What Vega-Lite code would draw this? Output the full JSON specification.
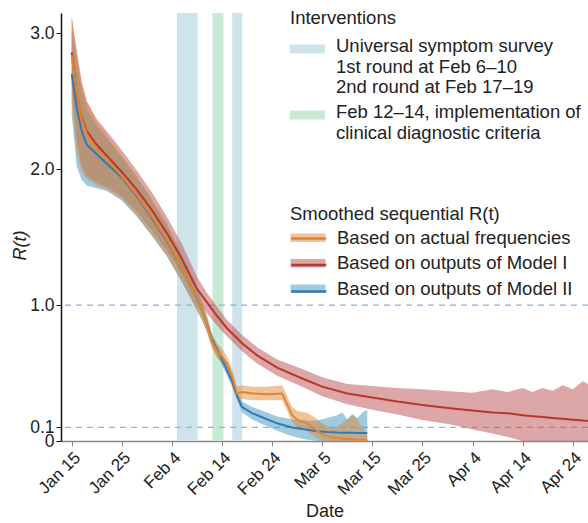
{
  "$schema": "https://vega.github.io/schema/vega-lite/v6.json",
  "width": 527,
  "height": 428,
  "autosize": {"type": "none"},
  "padding": {"left": 61, "top": 13, "right": 0, "bottom": 82},
  "background": "white",
  "config": {
    "font": "Liberation Sans",
    "view": {"stroke": null},
    "legend": {"padding": 0}
  },
  "datasets": {
    "series": [
      {"date": "2020-01-15", "series": "Based on outputs of Model I", "lo": 2.62, "mid": 2.86, "hi": 3.12},
      {"date": "2020-01-16", "series": "Based on outputs of Model I", "lo": 2.20, "mid": 2.55, "hi": 2.88},
      {"date": "2020-01-17", "series": "Based on outputs of Model I", "lo": 2.02, "mid": 2.38, "hi": 2.64},
      {"date": "2020-01-18", "series": "Based on outputs of Model I", "lo": 1.95, "mid": 2.28, "hi": 2.50},
      {"date": "2020-01-20", "series": "Based on outputs of Model I", "lo": 1.90, "mid": 2.18, "hi": 2.37},
      {"date": "2020-01-22", "series": "Based on outputs of Model I", "lo": 1.87, "mid": 2.10, "hi": 2.28},
      {"date": "2020-01-25", "series": "Based on outputs of Model I", "lo": 1.80, "mid": 1.98, "hi": 2.14},
      {"date": "2020-01-28", "series": "Based on outputs of Model I", "lo": 1.69, "mid": 1.85, "hi": 1.99},
      {"date": "2020-01-31", "series": "Based on outputs of Model I", "lo": 1.55, "mid": 1.70, "hi": 1.83},
      {"date": "2020-02-03", "series": "Based on outputs of Model I", "lo": 1.40, "mid": 1.53, "hi": 1.65},
      {"date": "2020-02-06", "series": "Based on outputs of Model I", "lo": 1.23, "mid": 1.34, "hi": 1.45},
      {"date": "2020-02-09", "series": "Based on outputs of Model I", "lo": 1.03, "mid": 1.12, "hi": 1.21},
      {"date": "2020-02-11", "series": "Based on outputs of Model I", "lo": 0.94, "mid": 1.02, "hi": 1.09},
      {"date": "2020-02-13", "series": "Based on outputs of Model I", "lo": 0.85, "mid": 0.92, "hi": 0.99},
      {"date": "2020-02-15", "series": "Based on outputs of Model I", "lo": 0.77, "mid": 0.83, "hi": 0.89},
      {"date": "2020-02-18", "series": "Based on outputs of Model I", "lo": 0.66, "mid": 0.72, "hi": 0.78},
      {"date": "2020-02-21", "series": "Based on outputs of Model I", "lo": 0.57, "mid": 0.63, "hi": 0.69},
      {"date": "2020-02-25", "series": "Based on outputs of Model I", "lo": 0.48, "mid": 0.54, "hi": 0.60},
      {"date": "2020-03-01", "series": "Based on outputs of Model I", "lo": 0.40, "mid": 0.46, "hi": 0.53},
      {"date": "2020-03-05", "series": "Based on outputs of Model I", "lo": 0.33, "mid": 0.40, "hi": 0.47},
      {"date": "2020-03-10", "series": "Based on outputs of Model I", "lo": 0.27, "mid": 0.35, "hi": 0.42},
      {"date": "2020-03-15", "series": "Based on outputs of Model I", "lo": 0.23, "mid": 0.32, "hi": 0.405},
      {"date": "2020-03-20", "series": "Based on outputs of Model I", "lo": 0.195, "mid": 0.29, "hi": 0.39},
      {"date": "2020-03-25", "series": "Based on outputs of Model I", "lo": 0.155, "mid": 0.265, "hi": 0.38},
      {"date": "2020-03-31", "series": "Based on outputs of Model I", "lo": 0.12, "mid": 0.24, "hi": 0.365},
      {"date": "2020-04-04", "series": "Based on outputs of Model I", "lo": 0.085, "mid": 0.225, "hi": 0.355},
      {"date": "2020-04-08", "series": "Based on outputs of Model I", "lo": 0.055, "mid": 0.21, "hi": 0.38},
      {"date": "2020-04-11", "series": "Based on outputs of Model I", "lo": 0.03, "mid": 0.205, "hi": 0.36},
      {"date": "2020-04-14", "series": "Based on outputs of Model I", "lo": 0.0, "mid": 0.19, "hi": 0.39},
      {"date": "2020-04-16", "series": "Based on outputs of Model I", "lo": 0.0, "mid": 0.183, "hi": 0.36},
      {"date": "2020-04-18", "series": "Based on outputs of Model I", "lo": 0.0, "mid": 0.177, "hi": 0.39},
      {"date": "2020-04-20", "series": "Based on outputs of Model I", "lo": 0.0, "mid": 0.17, "hi": 0.37},
      {"date": "2020-04-22", "series": "Based on outputs of Model I", "lo": 0.0, "mid": 0.163, "hi": 0.41},
      {"date": "2020-04-24", "series": "Based on outputs of Model I", "lo": 0.0, "mid": 0.157, "hi": 0.38},
      {"date": "2020-04-26", "series": "Based on outputs of Model I", "lo": 0.0, "mid": 0.15, "hi": 0.44},
      {"date": "2020-04-28", "series": "Based on outputs of Model I", "lo": 0.0, "mid": 0.143, "hi": 0.40},

      {"date": "2020-01-15", "series": "Based on outputs of Model II", "lo": 2.40, "mid": 2.70, "hi": 3.02},
      {"date": "2020-01-16", "series": "Based on outputs of Model II", "lo": 2.02, "mid": 2.45, "hi": 2.78},
      {"date": "2020-01-17", "series": "Based on outputs of Model II", "lo": 1.92, "mid": 2.28, "hi": 2.58},
      {"date": "2020-01-18", "series": "Based on outputs of Model II", "lo": 1.88, "mid": 2.18, "hi": 2.44},
      {"date": "2020-01-20", "series": "Based on outputs of Model II", "lo": 1.86, "mid": 2.11, "hi": 2.32},
      {"date": "2020-01-22", "series": "Based on outputs of Model II", "lo": 1.84, "mid": 2.04, "hi": 2.23},
      {"date": "2020-01-25", "series": "Based on outputs of Model II", "lo": 1.77, "mid": 1.94, "hi": 2.09},
      {"date": "2020-01-28", "series": "Based on outputs of Model II", "lo": 1.65, "mid": 1.80, "hi": 1.94},
      {"date": "2020-01-31", "series": "Based on outputs of Model II", "lo": 1.51, "mid": 1.64, "hi": 1.77},
      {"date": "2020-02-03", "series": "Based on outputs of Model II", "lo": 1.36, "mid": 1.47, "hi": 1.59},
      {"date": "2020-02-06", "series": "Based on outputs of Model II", "lo": 1.17, "mid": 1.27, "hi": 1.37},
      {"date": "2020-02-08", "series": "Based on outputs of Model II", "lo": 1.03, "mid": 1.12, "hi": 1.20},
      {"date": "2020-02-10", "series": "Based on outputs of Model II", "lo": 0.89, "mid": 0.96, "hi": 1.03},
      {"date": "2020-02-11", "series": "Based on outputs of Model II", "lo": 0.80, "mid": 0.86, "hi": 0.92},
      {"date": "2020-02-12", "series": "Based on outputs of Model II", "lo": 0.70, "mid": 0.745, "hi": 0.79},
      {"date": "2020-02-14", "series": "Based on outputs of Model II", "lo": 0.56, "mid": 0.60, "hi": 0.64},
      {"date": "2020-02-16", "series": "Based on outputs of Model II", "lo": 0.40, "mid": 0.44, "hi": 0.48},
      {"date": "2020-02-17", "series": "Based on outputs of Model II", "lo": 0.30, "mid": 0.33, "hi": 0.37},
      {"date": "2020-02-18", "series": "Based on outputs of Model II", "lo": 0.21, "mid": 0.25, "hi": 0.29},
      {"date": "2020-02-20", "series": "Based on outputs of Model II", "lo": 0.16, "mid": 0.205, "hi": 0.25},
      {"date": "2020-02-22", "series": "Based on outputs of Model II", "lo": 0.125, "mid": 0.175, "hi": 0.225},
      {"date": "2020-02-25", "series": "Based on outputs of Model II", "lo": 0.075, "mid": 0.13, "hi": 0.18},
      {"date": "2020-02-28", "series": "Based on outputs of Model II", "lo": 0.035, "mid": 0.10, "hi": 0.16},
      {"date": "2020-03-02", "series": "Based on outputs of Model II", "lo": 0.01, "mid": 0.083, "hi": 0.15},
      {"date": "2020-03-04", "series": "Based on outputs of Model II", "lo": 0.0, "mid": 0.072, "hi": 0.15},
      {"date": "2020-03-06", "series": "Based on outputs of Model II", "lo": 0.0, "mid": 0.066, "hi": 0.17},
      {"date": "2020-03-08", "series": "Based on outputs of Model II", "lo": 0.0, "mid": 0.062, "hi": 0.19},
      {"date": "2020-03-09", "series": "Based on outputs of Model II", "lo": 0.0, "mid": 0.061, "hi": 0.21},
      {"date": "2020-03-10", "series": "Based on outputs of Model II", "lo": 0.0, "mid": 0.06, "hi": 0.16},
      {"date": "2020-03-11", "series": "Based on outputs of Model II", "lo": 0.0, "mid": 0.06, "hi": 0.20},
      {"date": "2020-03-12", "series": "Based on outputs of Model II", "lo": 0.0, "mid": 0.059, "hi": 0.17},
      {"date": "2020-03-13", "series": "Based on outputs of Model II", "lo": 0.0, "mid": 0.059, "hi": 0.21},
      {"date": "2020-03-14", "series": "Based on outputs of Model II", "lo": 0.0, "mid": 0.059, "hi": 0.23},

      {"date": "2020-01-15", "series": "Based on actual frequencies", "lo": 2.48, "mid": 2.84, "hi": 3.12},
      {"date": "2020-01-16", "series": "Based on actual frequencies", "lo": 2.12, "mid": 2.56, "hi": 2.86},
      {"date": "2020-01-17", "series": "Based on actual frequencies", "lo": 1.98, "mid": 2.37, "hi": 2.64},
      {"date": "2020-01-18", "series": "Based on actual frequencies", "lo": 1.93, "mid": 2.26, "hi": 2.50},
      {"date": "2020-01-20", "series": "Based on actual frequencies", "lo": 1.88, "mid": 2.15, "hi": 2.35},
      {"date": "2020-01-22", "series": "Based on actual frequencies", "lo": 1.85, "mid": 2.08, "hi": 2.25},
      {"date": "2020-01-25", "series": "Based on actual frequencies", "lo": 1.78, "mid": 1.95, "hi": 2.10},
      {"date": "2020-01-28", "series": "Based on actual frequencies", "lo": 1.66, "mid": 1.81, "hi": 1.95},
      {"date": "2020-01-31", "series": "Based on actual frequencies", "lo": 1.51, "mid": 1.65, "hi": 1.78},
      {"date": "2020-02-03", "series": "Based on actual frequencies", "lo": 1.36, "mid": 1.48, "hi": 1.60},
      {"date": "2020-02-06", "series": "Based on actual frequencies", "lo": 1.17, "mid": 1.27, "hi": 1.37},
      {"date": "2020-02-08", "series": "Based on actual frequencies", "lo": 1.03, "mid": 1.12, "hi": 1.20},
      {"date": "2020-02-10", "series": "Based on actual frequencies", "lo": 0.89, "mid": 0.96, "hi": 1.03},
      {"date": "2020-02-11", "series": "Based on actual frequencies", "lo": 0.80, "mid": 0.86, "hi": 0.92},
      {"date": "2020-02-12", "series": "Based on actual frequencies", "lo": 0.68, "mid": 0.73, "hi": 0.78},
      {"date": "2020-02-13", "series": "Based on actual frequencies", "lo": 0.61, "mid": 0.66, "hi": 0.72},
      {"date": "2020-02-14", "series": "Based on actual frequencies", "lo": 0.57, "mid": 0.62, "hi": 0.68},
      {"date": "2020-02-15", "series": "Based on actual frequencies", "lo": 0.52, "mid": 0.57, "hi": 0.62},
      {"date": "2020-02-16", "series": "Based on actual frequencies", "lo": 0.43, "mid": 0.48, "hi": 0.53},
      {"date": "2020-02-17", "series": "Based on actual frequencies", "lo": 0.31, "mid": 0.35, "hi": 0.40},
      {"date": "2020-02-18", "series": "Based on actual frequencies", "lo": 0.31, "mid": 0.36, "hi": 0.41},
      {"date": "2020-02-20", "series": "Based on actual frequencies", "lo": 0.30, "mid": 0.35, "hi": 0.40},
      {"date": "2020-02-23", "series": "Based on actual frequencies", "lo": 0.30, "mid": 0.345, "hi": 0.40},
      {"date": "2020-02-26", "series": "Based on actual frequencies", "lo": 0.30, "mid": 0.35, "hi": 0.41},
      {"date": "2020-02-27", "series": "Based on actual frequencies", "lo": 0.22, "mid": 0.27, "hi": 0.33},
      {"date": "2020-02-28", "series": "Based on actual frequencies", "lo": 0.14, "mid": 0.19, "hi": 0.25},
      {"date": "2020-02-29", "series": "Based on actual frequencies", "lo": 0.10, "mid": 0.157, "hi": 0.22},
      {"date": "2020-03-02", "series": "Based on actual frequencies", "lo": 0.07, "mid": 0.13, "hi": 0.21},
      {"date": "2020-03-04", "series": "Based on actual frequencies", "lo": 0.02, "mid": 0.075, "hi": 0.16},
      {"date": "2020-03-05", "series": "Based on actual frequencies", "lo": 0.0, "mid": 0.05, "hi": 0.13},
      {"date": "2020-03-07", "series": "Based on actual frequencies", "lo": 0.0, "mid": 0.025, "hi": 0.09},
      {"date": "2020-03-09", "series": "Based on actual frequencies", "lo": 0.0, "mid": 0.018, "hi": 0.13},
      {"date": "2020-03-11", "series": "Based on actual frequencies", "lo": 0.0, "mid": 0.012, "hi": 0.19},
      {"date": "2020-03-12", "series": "Based on actual frequencies", "lo": 0.0, "mid": 0.01, "hi": 0.16},
      {"date": "2020-03-14", "series": "Based on actual frequencies", "lo": 0.0, "mid": 0.008, "hi": 0.04}
    ],
    "interventions": [
      {"start": "2020-02-05T00:00:00Z", "end": "2020-02-09T03:00:00Z", "intervention": "Universal symptom survey"},
      {"start": "2020-02-16T01:00:00Z", "end": "2020-02-18T01:00:00Z", "intervention": "Universal symptom survey"},
      {"start": "2020-02-12T02:00:00Z", "end": "2020-02-14T07:00:00Z", "intervention": "Feb 12–14, implementation of clinical diagnostic criteria"}
    ],
    "refs": [{"v": 1.0}, {"v": 0.1}]
  },
  "layer": [
    {
      "data": {"name": "interventions"},
      "mark": {"type": "rect"},
      "encoding": {
        "x": {"field": "start", "type": "temporal"},
        "x2": {"field": "end"},
        "color": {
          "field": "intervention",
          "type": "nominal",
          "scale": {
            "domain": ["Universal symptom survey", "Feb 12–14, implementation of clinical diagnostic criteria"],
            "range": ["#cfe3ed", "#c8e9d3"]
          },
          "legend": {
            "title": "Interventions",
            "orient": "none",
            "legendX": 229,
            "legendY": -4,
            "symbolType": "M-1,-0.26H1V0.26H-1Z",
            "symbolSize": 1225,
            "symbolStrokeWidth": 0,
            "symbolOpacity": 1,
            "labelExpr": "datum.label == 'Universal symptom survey' ? ['Universal symptom survey', '1st round at Feb 6–10', '2nd round at Feb 17–19'] : ['Feb 12–14, implementation of', 'clinical diagnostic criteria']",
            "labelFontSize": 18.5,
            "labelLineHeight": 23,
            "labelBaseline": "top",
            "labelLimit": 400,
            "labelOffset": 11,
            "labelColor": "#222",
            "titleFontSize": 18.5,
            "titleFontWeight": "normal",
            "titleColor": "#222",
            "titlePadding": 4,
            "rowPadding": 1,
            "encode": {"labels": {"update": {"dy": {"value": -12}}}}
          }
        }
      }
    },
    {
      "data": {"name": "refs"},
      "mark": {"type": "rule", "color": "#8cb4dc", "strokeDash": [6, 5], "strokeWidth": 1.3},
      "encoding": {"y": {"field": "v", "type": "quantitative"}}
    },
    {
      "data": {"name": "series"},
      "mark": {"type": "area", "opacity": 0.5, "clip": true},
      "encoding": {
        "x": {
          "field": "date",
          "type": "temporal",
          "scale": {
            "type": "utc",
            "domain": [
              {"year": 2020, "month": 1, "date": 12, "hours": 20, "minutes": 44, "utc": true},
              {"year": 2020, "month": 4, "date": 27, "hours": 1, "minutes": 12, "utc": true}
            ]
          },
          "axis": {
            "title": "Date",
            "values": [
              {"year": 2020, "month": 1, "date": 15, "utc": true},
              {"year": 2020, "month": 1, "date": 25, "utc": true},
              {"year": 2020, "month": 2, "date": 4, "utc": true},
              {"year": 2020, "month": 2, "date": 14, "utc": true},
              {"year": 2020, "month": 2, "date": 24, "utc": true},
              {"year": 2020, "month": 3, "date": 5, "utc": true},
              {"year": 2020, "month": 3, "date": 15, "utc": true},
              {"year": 2020, "month": 3, "date": 25, "utc": true},
              {"year": 2020, "month": 4, "date": 4, "utc": true},
              {"year": 2020, "month": 4, "date": 14, "utc": true},
              {"year": 2020, "month": 4, "date": 24, "utc": true}
            ],
            "format": "%b %-d",
            "labelAngle": -45,
            "labelFontSize": 17,
            "labelColor": "#222",
            "labelFlush": false,
            "labelOverlap": false,
            "labelPadding": 3,
            "grid": false,
            "domainColor": "#888",
            "domainWidth": 1.5,
            "tickColor": "#888",
            "tickSize": 5,
            "tickWidth": 1,
            "titleFontSize": 18,
            "titleFontWeight": "normal",
            "titleColor": "#222",
            "titlePadding": 5
          }
        },
        "y": {
          "field": "lo",
          "type": "quantitative",
          "scale": {"domain": [0, 3.15], "nice": false, "zero": false},
          "axis": {
            "title": "R(t)",
            "values": [0, 0.1, 1, 2, 3],
            "labelExpr": "datum.value == 0 ? '0' : datum.value == 0.1 ? '0.1' : format(datum.value, '.1f')",
            "labelFontSize": 17.5,
            "labelColor": "#222",
            "labelOverlap": false,
            "labelFlush": false,
            "labelPadding": 2,
            "grid": false,
            "domainColor": "#111",
            "domainWidth": 1.5,
            "tickColor": "#111",
            "tickSize": 5,
            "titleFontSize": 18,
            "titleFontStyle": "italic",
            "titleFontWeight": "normal",
            "titleColor": "#222",
            "titleX": -32,
            "titleY": 232,
            "encode": {"labels": {"update": {"dy": {"signal": "datum.value == 0 ? 3 : datum.value == 0.1 ? -2 : 0"}}}}
          }
        },
        "y2": {"field": "hi"},
        "fill": {
          "field": "series",
          "type": "nominal",
          "scale": {"range": ["#dc8a3c", "#bd4f4f", "#3f98c4"]},
          "legend": {
            "title": "Smoothed sequential R(t)",
            "orient": "none",
            "legendX": 229,
            "legendY": 192,
            "symbolType": "M-1,-0.5H3V0.5H-1Z",
            "symbolSize": 306,
            "symbolStrokeWidth": 0,
            "symbolOpacity": 0.5,
            "labelFontSize": 18.5,
            "labelLimit": 400,
            "labelOffset": 28.5,
            "labelColor": "#222",
            "titleFontSize": 18.5,
            "titleFontWeight": "normal",
            "titleColor": "#222",
            "titleLimit": 400,
            "titleAnchor": "start",
            "titlePadding": 5,
            "rowPadding": 6.5
          }
        }
      }
    },
    {
      "data": {"name": "series"},
      "transform": [{"filter": "datum.mid != null"}],
      "mark": {"type": "line", "strokeWidth": 2, "clip": true},
      "encoding": {
        "x": {"field": "date", "type": "temporal"},
        "y": {"field": "mid", "type": "quantitative"},
        "stroke": {
          "field": "series",
          "type": "nominal",
          "scale": {"range": ["#e8832a", "#b8362c", "#3a76b0"]},
          "legend": {
            "title": " ",
            "orient": "none",
            "legendX": 229,
            "legendY": 192,
            "symbolType": "M-1,0H3",
            "symbolSize": 306,
            "symbolStrokeWidth": 2.5,
            "symbolOpacity": 1,
            "labelExpr": "''",
            "labelFontSize": 18.5,
            "labelOffset": 28.5,
            "titleFontSize": 18.5,
            "titleFontWeight": "normal",
            "titleAnchor": "start",
            "titlePadding": 5,
            "rowPadding": 6.5
          }
        }
      }
    }
  ]
}
